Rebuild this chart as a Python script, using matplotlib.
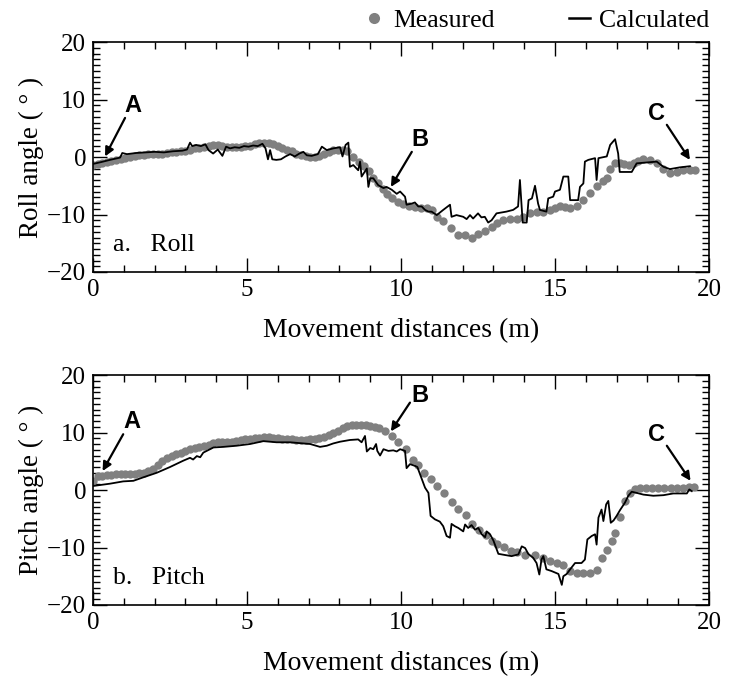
import matplotlib
matplotlib.use("Agg")
import matplotlib.pyplot as plt
from matplotlib.ticker import MultipleLocator
from matplotlib.lines import Line2D

# ---------------- data ----------------
roll_meas_x = [0.00, 0.15, 0.30, 0.45, 0.60, 0.75, 0.90, 1.05, 1.20, 1.35, 1.50, 1.65, 1.80, 1.95,
               2.10, 2.25, 2.40, 2.55, 2.70, 2.85, 3.00, 3.15, 3.30, 3.45, 3.60, 3.75, 3.90, 4.05,
               4.20, 4.35, 4.50, 4.65, 4.80, 4.95, 5.10, 5.25, 5.40, 5.55, 5.70, 5.85, 6.00, 6.15,
               6.30, 6.45, 6.60, 6.75, 6.90, 7.05, 7.20, 7.35, 7.50, 7.65, 7.80, 7.95, 8.10, 8.25,
               8.45, 8.65, 8.80, 8.95, 9.10, 9.25, 9.40, 9.55, 9.72, 9.90, 10.08, 10.26, 10.45,
               10.64, 10.83, 11.00, 11.16, 11.37, 11.62, 11.86, 12.08, 12.30, 12.51, 12.73, 12.94,
               13.12, 13.32, 13.54, 13.75, 13.96, 14.19, 14.40, 14.60, 14.84, 15.00, 15.16, 15.33,
               15.49, 15.70, 15.90, 16.14, 16.35, 16.57, 16.68, 16.79, 16.95, 17.10, 17.25, 17.40,
               17.55, 17.70, 17.87, 18.08, 18.30, 18.50, 18.73, 18.95, 19.16, 19.38, 19.55]
roll_meas_y = [-1.4, -1.3, -1.1, -0.9, -0.7, -0.5, -0.3, -0.1, 0.0, 0.2, 0.3, 0.4, 0.5, 0.5,
               0.6, 0.6, 0.7, 0.8, 0.9, 1.0, 1.1, 1.3, 1.5, 1.6, 1.8, 2.0, 2.1, 2.1,
               2.0, 1.8, 1.7, 1.7, 1.8, 1.9, 2.0, 2.2, 2.4, 2.5, 2.5, 2.3, 2.0, 1.6,
               1.3, 1.0, 0.6, 0.3, 0.1, 0.0, 0.0, 0.2, 0.5, 0.9, 1.2, 1.3, 1.3, 1.1,
               0.0, -0.8, -1.5, -2.5, -3.6, -4.6, -5.6, -6.5, -7.2, -7.8, -8.2, -8.5, -8.7,
               -8.8, -8.9, -9.3, -10.4, -11.2, -12.4, -13.5, -13.6, -14.0, -13.4, -12.9, -12.2,
               -11.4, -11.0, -10.8, -10.8, -10.5, -9.7, -9.6, -9.5, -9.3, -8.8, -8.6, -8.7,
               -8.8, -8.5, -7.5, -6.3, -5.1, -4.2, -3.6, -2.0, -1.1, -1.0, -1.2, -1.4,
               -1.0, -0.7, -0.4, -0.5, -1.1, -2.1, -2.7, -2.6, -2.3, -2.3, -2.3]

roll_calc_x = [0.00, 0.25, 0.55, 0.80, 0.88, 0.95, 1.10, 1.40, 1.70, 2.00, 2.30, 2.60, 2.90, 3.05,
               3.15, 3.22, 3.35, 3.50, 3.65, 3.75, 3.90, 4.05, 4.20, 4.32, 4.45, 4.60, 4.75, 4.90,
               5.05, 5.20, 5.35, 5.50, 5.60, 5.68, 5.75, 5.82, 5.95, 6.10, 6.25, 6.40, 6.55, 6.70,
               6.83, 6.94, 7.10, 7.30, 7.43, 7.59, 7.80, 8.02, 8.10, 8.20, 8.29, 8.34, 8.45, 8.61,
               8.67, 8.72, 8.89, 8.94, 9.00, 9.10, 9.26, 9.43, 9.53, 9.70, 9.86, 9.97, 10.13, 10.18,
               10.35, 10.45, 10.56, 10.67, 10.78, 10.89, 10.99, 11.16, 11.37, 11.59, 11.64, 11.80,
               12.02, 12.13, 12.24, 12.34, 12.50, 12.61, 12.72, 12.83, 12.94, 13.10, 13.42, 13.64,
               13.80, 13.86, 13.95, 14.08, 14.14, 14.25, 14.35, 14.45, 14.51, 14.72, 14.78, 14.94,
               15.00, 15.16, 15.27, 15.43, 15.49, 15.75, 15.81, 15.92, 15.97, 16.08, 16.30, 16.35,
               16.41, 16.68, 16.79, 16.95, 17.05, 17.10, 17.49, 17.65, 18.30, 18.52, 18.73, 19.05,
               19.38]
roll_calc_y = [-1.2, -0.9, -0.5, -0.2, -0.1, 0.7, 0.5, 0.7, 0.8, 0.9, 0.8, 1.0, 1.1, 1.3,
               2.5, 1.9, 2.1, 1.9, 2.2, 1.2, 0.6, 1.3, 0.2, 1.8, 1.5, 1.7, 1.6, 1.9,
               1.8, 2.0, 1.9, 2.3, 1.5, -0.4, 1.2, -0.4, -0.5, -0.4, 0.1, 0.5, 0.1, 0.6,
               0.9, 0.3, 0.2, 0.5, 1.8, 1.2, 1.5, 1.7, 0.1, 2.1, 2.5, -1.7, -1.4, -2.3,
               -0.8, -3.4, -2.0, -5.2, -3.7, -3.7, -4.9, -5.4, -5.2, -5.7, -6.4, -6.0, -6.9, -8.3,
               -8.1, -7.9, -8.6, -8.6, -9.2, -9.5, -9.5, -10.1, -9.2, -8.3, -10.4, -10.1,
               -10.4, -10.8, -10.1, -10.7, -9.8, -10.5, -10.4, -11.4, -11.0, -9.8, -9.5, -9.2,
               -8.6, -4.0, -11.4, -11.4, -7.5, -7.2, -5.0, -8.1, -9.2, -9.5, -7.2, -6.9,
               -6.0, -5.7, -3.4, -3.4, -7.5, -7.5, -5.2, -4.6, -0.8, -0.5, -0.2, -4.0,
               -0.2, 0.1, 2.1, 3.1, 0.6, -2.6, -2.6, -1.1, -0.8, -1.7, -2.1, -1.8,
               -1.6]

pitch_meas_x = [0.00, 0.15, 0.30, 0.45, 0.60, 0.75, 0.90, 1.05, 1.20, 1.35, 1.50, 1.65, 1.80, 1.95,
                2.10, 2.25, 2.40, 2.55, 2.70, 2.85, 3.00, 3.15, 3.30, 3.45, 3.60, 3.75, 3.90, 4.05,
                4.20, 4.35, 4.50, 4.65, 4.80, 4.95, 5.10, 5.25, 5.40, 5.55, 5.70, 5.85, 6.00, 6.15,
                6.30, 6.45, 6.60, 6.75, 6.90, 7.05, 7.20, 7.35, 7.50, 7.65, 7.80, 7.95, 8.10, 8.25,
                8.40, 8.55, 8.70, 8.85, 9.00, 9.15, 9.30, 9.48, 9.70, 9.91, 10.16, 10.38, 10.56,
                10.75, 10.96, 11.18, 11.40, 11.64, 11.86, 12.10, 12.31, 12.53, 12.76, 12.94, 13.13,
                13.35, 13.56, 13.75, 14.02, 14.34, 14.61, 14.84, 15.05, 15.27, 15.49, 15.70, 15.92,
                16.14, 16.35, 16.51, 16.68, 16.84, 16.95, 17.10, 17.27, 17.43, 17.60, 17.75, 17.95,
                18.15, 18.35, 18.55, 18.75, 18.95, 19.15, 19.35, 19.50]
pitch_meas_y = [1.5, 2.4, 2.5, 2.6, 2.6, 2.7, 2.7, 2.7, 2.7, 2.8, 2.9, 3.0, 3.3, 3.7,
                4.3, 5.0, 5.5, 5.9, 6.2, 6.5, 6.8, 7.1, 7.3, 7.5, 7.7, 7.9, 8.1, 8.3,
                8.3, 8.3, 8.4, 8.5, 8.7, 8.8, 8.9, 9.0, 9.1, 9.2, 9.2, 9.1, 9.0, 8.9,
                8.8, 8.8, 8.7, 8.7, 8.7, 8.8, 8.8, 9.0, 9.2, 9.6, 10.0, 10.3, 10.8, 11.2,
                11.3, 11.3, 11.3, 11.3, 11.2, 11.0, 10.7, 10.3, 9.4, 8.4, 7.1, 5.2, 4.4,
                3.0, 1.9, 0.7, -0.5, -2.0, -3.3, -4.4, -5.9, -7.0, -7.9, -8.8, -9.4,
                -9.9, -10.6, -10.8, -11.3, -11.3, -11.9, -12.3, -12.7, -13.1, -14.1, -14.4, -14.5,
                -14.5, -14.0, -11.9, -10.5, -8.9, -7.4, -4.7, -1.9, -0.5, 0.1, 0.3, 0.3,
                0.3, 0.3, 0.3, 0.4, 0.4, 0.4, 0.5, 0.5]

pitch_calc_x = [0.00, 0.55, 0.98, 1.31, 1.63, 2.07, 2.50, 2.93, 3.15, 3.25, 3.37, 3.48, 3.58, 3.91,
                4.23, 4.66, 5.10, 5.53, 5.96, 6.40, 6.83, 7.05, 7.37, 7.59, 7.80, 8.02, 8.34, 8.61,
                8.72, 8.83, 8.89, 9.00, 9.10, 9.19, 9.23, 9.32, 9.43, 9.59, 9.75, 9.86, 9.97, 10.13,
                10.18, 10.29, 10.45, 10.53, 10.62, 10.78, 10.89, 10.96, 11.10, 11.26, 11.37, 11.48,
                11.59, 11.64, 11.75, 11.86, 12.02, 12.08, 12.18, 12.29, 12.40, 12.51, 12.62, 12.73,
                12.78, 12.89, 13.00, 13.16, 13.37, 13.59, 13.81, 13.92, 14.03, 14.13, 14.29, 14.40,
                14.49, 14.56, 14.62, 14.72, 14.89, 15.11, 15.22, 15.27, 15.38, 15.49, 15.65, 15.86,
                15.97, 16.05, 16.19, 16.30, 16.35, 16.41, 16.51, 16.57, 16.66, 16.73, 16.81, 16.90,
                17.00, 17.11, 17.27, 17.38, 17.49, 17.65, 17.87, 18.19, 18.52, 18.84, 19.28, 19.36,
                19.44]
pitch_calc_y = [0.7, 1.1, 1.5, 1.6, 2.2, 3.0, 4.0, 5.1, 5.6, 5.3, 5.9, 5.7, 6.5, 7.4,
                7.5, 7.7, 8.0, 8.5, 8.3, 8.3, 8.1, 8.0, 7.5, 7.7, 8.1, 8.4, 8.7, 8.8,
                8.3, 9.4, 6.7, 7.3, 7.1, 8.0, 6.8, 6.0, 7.1, 6.8, 6.9, 6.7, 7.1, 6.8,
                3.8, 4.5, 4.2, 4.0, 2.7, 0.4, -0.5, -4.5, -5.1, -5.5, -6.3, -8.0,
                -8.3, -5.9, -6.3, -6.6, -7.2, -6.0, -6.6, -6.1, -6.9, -6.6, -7.7, -8.2,
                -7.2, -7.7, -8.8, -11.1, -11.3, -11.5, -11.2, -9.8, -10.1, -11.1, -11.8, -12.7,
                -14.7, -12.1, -11.5, -13.8, -14.1, -14.6, -16.5, -15.0, -14.6, -13.8, -12.7, -12.7,
                -12.1, -8.6, -8.0, -7.7, -9.5, -4.8, -3.4, -5.4, -2.5, -1.9, -5.7, -5.3,
                -4.5, -3.5, -2.2, -1.0, -0.3, -0.5, -0.8, -1.0, -0.9, -0.6, -0.6, 0.1,
                -0.2]

x_ticks = [0, 5, 10, 15, 20]
y_ticks = [-20, -10, 0, 10, 20]

# annotation anchors (label, text pos, arrow start, arrow tip)
roll_notes = [("A", (1.31, 8.9), (1.04, 6.8), (0.39, 0.1)),
              ("B", (10.62, 3.0), (10.35, 0.9), (9.67, -5.2)),
              ("C", (18.30, 7.6), (18.63, 5.6), (19.38, -0.5))]
pitch_notes = [("A", (1.26, 12.0), (0.98, 9.7), (0.31, 3.3)),
               ("B", (10.62, 16.4), (10.29, 15.2), (9.67, 10.2)),
               ("C", (18.30, 9.7), (18.63, 7.7), (19.40, 1.6))]

# ---------------- plotting ----------------
plt.rcParams['font.family'] = ['Liberation Serif', 'DejaVu Serif']

GRAY = '#808080'
fig = plt.figure(figsize=(7.33, 6.8), dpi=100)
ax1 = fig.add_axes([0.1269, 0.600, 0.8404, 0.3382])
ax2 = fig.add_axes([0.1269, 0.1103, 0.8404, 0.3382])


def style(ax, ylabel, tag, notes, mx, my, cx, cy):
    ax.plot(mx, my, 'o', color=GRAY, ms=6.0, mec='none', zorder=2)
    ax.plot(cx, cy, '-', color='black', lw=1.3, zorder=3)
    ax.set_xlim(0, 20)
    ax.set_ylim(-20, 20)
    ax.set_xticks(x_ticks)
    ax.set_yticks(y_ticks)
    ax.set_yticklabels(['\u221220', '\u221210', '0', '10', '20'])
    ax.xaxis.set_minor_locator(MultipleLocator(1))
    ax.yaxis.set_minor_locator(MultipleLocator(1))
    ax.tick_params(which='both', direction='in', top=True, right=True, labelsize=18, width=1.0)
    ax.tick_params(which='major', length=10, pad=5)
    ax.tick_params(which='minor', length=5)
    for s in ax.spines.values():
        s.set_linewidth(1.2)
    ax.set_xlabel('Movement distances (m)', fontsize=20, labelpad=12)
    ax.set_ylabel(ylabel, fontsize=19.5, labelpad=2)
    ax.text(0.65, -15.3, tag, fontsize=18.5, va='center', ha='left')
    for lab, tp, st, tip in notes:
        ax.text(tp[0], tp[1], lab, fontsize=17, fontweight='bold',
                family=['Liberation Sans', 'DejaVu Sans'], ha='center', va='center')
        ax.annotate('', xy=tip, xytext=st,
                    arrowprops=dict(arrowstyle='-|>', color='black', lw=1.6,
                                    mutation_scale=13, shrinkA=0, shrinkB=0))


style(ax1, 'Roll angle ( \u00b0 )', 'a.   Roll', roll_notes,
      roll_meas_x, roll_meas_y, roll_calc_x, roll_calc_y)
style(ax2, 'Pitch angle ( \u00b0 )', 'b.   Pitch', pitch_notes,
      pitch_meas_x, pitch_meas_y, pitch_calc_x, pitch_calc_y)

handles = [Line2D([], [], marker='o', ls='none', color=GRAY, ms=8, mec='none'),
           Line2D([], [], color='black', lw=1.8)]
fig.legend(handles, ['Measured', 'Calculated'], ncol=2, loc='center right',
           bbox_to_anchor=(709 / 733, 1 - 21 / 680), frameon=False, fontsize=18.5,
           handlelength=0.8, handletextpad=0.35, columnspacing=2.9,
           borderaxespad=0.0, borderpad=0.0)

fig.savefig('out.png', dpi=100)
